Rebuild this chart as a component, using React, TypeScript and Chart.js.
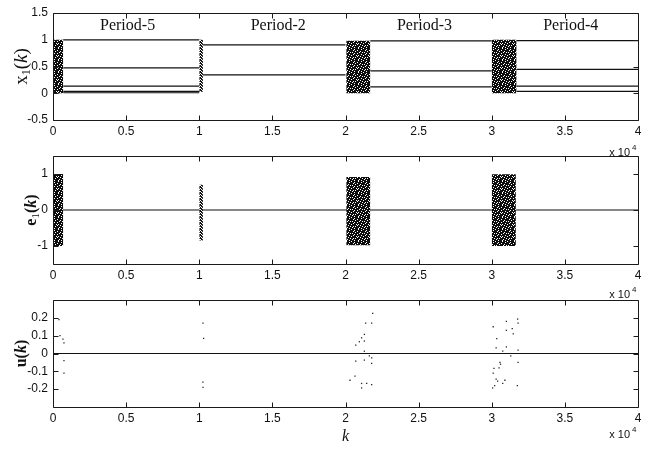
import React, { useEffect, useRef } from "react";
import { Chart, registerables } from "chart.js";

Chart.register(...registerables);

// ---------- data ----------
const kMin = 0;
const kMax = 40000;
const xTickValues = [0, 5000, 10000, 15000, 20000, 25000, 30000, 35000, 40000];
const xTickLabels = ["0", "0.5", "1", "1.5", "2", "2.5", "3", "3.5", "4"];

const x1TickValues = [-0.5, 0, 0.5, 1, 1.5];
const x1TickLabels = ["-0.5", "0", "0.5", "1", "1.5"];
const e1TickValues = [-1, 0, 1];
const e1TickLabels = ["-1", "0", "1"];
const uTickValues = [-0.2, -0.1, 0, 0.1, 0.2];
const uTickLabels = ["-0.2", "-0.1", "0", "0.1", "0.2"];

// period segments (steady orbits)
const periodNames = ["Period-5", "Period-2", "Period-3", "Period-4"];
const periodLabelK = [5100, 15400, 25400, 35400];
const periodLabelY = 1.27;
const periodStart = [700, 10250, 21700, 31700];
const periodEnd = [10000, 20000, 30000, 40000];
const orbit5 = [0.998, 0.476, 0.135, 0.036, 0.009];
const orbit2 = [0.905, 0.345];
const orbit3 = [0.98, 0.42, 0.12];
const orbit4 = [0.983, 0.446, 0.132, 0.034];
const orbits = [orbit5, orbit2, orbit3, orbit4];

// chaotic (transient) bands in x1(k)
const x1BandStart = [0, 10000, 20050, 30000];
const x1BandEnd = [700, 10250, 21700, 31700];
const x1BandLow = [0, 0.03, 0, 0];
const x1BandHigh = [1, 1, 0.98, 1];
const x1BandDense = [true, false, true, true];

// chaotic bands in e1(k)
const e1BandStart = [0, 10000, 20050, 30000];
const e1BandEnd = [700, 10250, 21700, 31650];
const e1BandLow = [-1, -0.85, -0.98, -1.0];
const e1BandHigh = [1, 0.7, 0.92, 0.99];
const e1BandDense = [true, false, true, true];

// control signal u(k) sparse points
const uK = [
  410, 480, 680, 750, 750, 750,
  10260, 10300, 10250, 10260,
  21860, 21380, 21790, 21290, 21100, 21290, 20950, 20700, 21290, 21630,
  21790, 21290, 20700, 21790, 20650, 20310, 21100, 21450, 21790, 21100,
  31770, 31800, 31000, 30100, 31400, 31000, 31470, 30340, 30300, 31000,
  30750, 31800, 31300, 30560, 30600, 31800, 30150, 30500, 30100, 30300,
  30400, 30900, 30750, 30200, 30060, 31750,
];
const uVal = [
  0.19, 0.1, 0.08, 0.06, -0.04, -0.11,
  0.17, 0.085, -0.16, -0.19,
  0.225, 0.17, 0.17, 0.107, 0.088, 0.07, 0.066, 0.047, 0.013, -0.013,
  -0.024, -0.037, -0.043, -0.056, -0.127, -0.15, -0.168, -0.168, -0.174, -0.193,
  0.193, 0.17, 0.18, 0.15, 0.14, 0.13, 0.11, 0.084, 0.032, 0.037,
  0.013, 0.019, -0.013, -0.05, -0.06, -0.05, -0.084, -0.08, -0.11, -0.144,
  -0.155, -0.15, -0.168, -0.18, -0.193, -0.18,
];

// ---------- styling helpers ----------
const DENSE_BITS = [
  "111011111101",
  "101111011111",
  "111110111011",
  "011111101111",
  "110101111110",
  "111111011011",
  "101110111111",
  "111011110101",
  "011111111011",
  "110110101111",
  "111101111110",
  "101111011101",
];
const SPARSE_BITS = [
  "1101",
  "0111",
  "1010",
  "1101",
  "0110",
  "1011",
];

function makePattern(bits: string[]): CanvasPattern | string {
  const c = document.createElement("canvas");
  c.width = bits[0].length;
  c.height = bits.length;
  const g = c.getContext("2d");
  if (!g) return "#222";
  g.fillStyle = "#ffffff";
  g.fillRect(0, 0, c.width, c.height);
  g.fillStyle = "#0d0d0d";
  bits.forEach((row, y) => {
    for (let x = 0; x < row.length; x++) if (row[x] === "1") g.fillRect(x, y, 1, 1);
  });
  const p = g.createPattern(c, "repeat");
  return p || "#222";
}

const SANS = "'Liberation Sans', Arial, sans-serif";
const SERIF = "'Liberation Serif', 'Times New Roman', serif";

type Part = { t: string; font: string; dy?: number };

function drawVerticalRich(ctx: CanvasRenderingContext2D, parts: Part[], cx: number, cy: number) {
  ctx.save();
  let total = 0;
  const widths = parts.map((p) => {
    ctx.font = p.font;
    const w = ctx.measureText(p.t).width;
    total += w;
    return w;
  });
  ctx.translate(cx, cy);
  ctx.rotate(-Math.PI / 2);
  ctx.textBaseline = "middle";
  ctx.textAlign = "left";
  ctx.fillStyle = "#111";
  let x = -total / 2;
  parts.forEach((p, i) => {
    ctx.font = p.font;
    ctx.fillText(p.t, x, p.dy || 0);
    x += widths[i];
  });
  ctx.restore();
}

type PanelCfg = {
  yMin: number;
  yMax: number;
  yTicks: number[];
  yLabels: string[];
  padTop: number;
  plotH: number;
  canvasH: number;
  titleParts: Part[];
  titleX: number;
  extraDraw?: (chart: any) => void;
  expOffset: number;
};

function buildOptions(cfg: PanelCfg, datasets: any[]) {
  const xAxisH = cfg.canvasH - cfg.padTop - cfg.plotH;
  const plugin = {
    id: "panelDeco",
    beforeDraw(chart: any) {
      const { ctx, chartArea: a } = chart;
      ctx.save();
      ctx.fillStyle = "#ffffff";
      ctx.fillRect(a.left, a.top, a.right - a.left, a.bottom - a.top);
      ctx.restore();
    },
    afterDatasetsDraw(chart: any) {
      const { ctx, chartArea: a, scales } = chart;
      const L = Math.round(a.left) + 0.5;
      const R = Math.round(a.right) + 0.5;
      const T = Math.round(a.top) + 0.5;
      const B = Math.round(a.bottom) + 0.5;
      ctx.save();
      ctx.strokeStyle = "#1a1a1a";
      ctx.lineWidth = 1;
      ctx.beginPath();
      ctx.rect(L, T, R - L, B - T);
      const tl = 5;
      xTickValues.forEach((v) => {
        const px = Math.round(scales.x.getPixelForValue(v)) + 0.5;
        ctx.moveTo(px, B);
        ctx.lineTo(px, B - tl);
        ctx.moveTo(px, T);
        ctx.lineTo(px, T + tl);
      });
      cfg.yTicks.forEach((v) => {
        const py = Math.round(scales.y.getPixelForValue(v)) + 0.5;
        ctx.moveTo(L, py);
        ctx.lineTo(L + tl, py);
        ctx.moveTo(R, py);
        ctx.lineTo(R - tl, py);
      });
      ctx.stroke();
      ctx.restore();
    },
    afterDraw(chart: any) {
      const { ctx, chartArea: a } = chart;
      drawVerticalRich(ctx, cfg.titleParts, cfg.titleX, (a.top + a.bottom) / 2);
      ctx.save();
      ctx.fillStyle = "#111";
      ctx.textBaseline = "alphabetic";
      ctx.font = `11px ${SANS}`;
      ctx.textAlign = "right";
      ctx.fillText("x 10", a.right - 8, a.bottom + cfg.expOffset);
      ctx.font = `8px ${SANS}`;
      ctx.textAlign = "left";
      ctx.fillText("4", a.right - 6, a.bottom + cfg.expOffset - 6);
      ctx.restore();
      if (cfg.extraDraw) cfg.extraDraw(chart);
    },
  };
  const options: any = {
    responsive: false,
    animation: false,
    events: [],
    layout: { padding: { top: cfg.padTop, left: 0, right: 12, bottom: 0 } },
    plugins: { legend: { display: false }, tooltip: { enabled: false } },
    scales: {
      x: {
        type: "linear",
        min: kMin,
        max: kMax,
        grid: { display: false, drawTicks: false },
        border: { display: false },
        afterBuildTicks: (s: any) => {
          s.ticks = xTickValues.map((v) => ({ value: v }));
        },
        afterFit: (s: any) => {
          s.height = xAxisH;
          s.paddingLeft = 0;
          s.paddingRight = 0;
        },
        ticks: {
          autoSkip: false,
          maxRotation: 0,
          padding: 4,
          color: "#111",
          font: { family: SANS, size: 12 },
          callback: (_v: any, i: number) => xTickLabels[i],
        },
      },
      y: {
        type: "linear",
        min: cfg.yMin,
        max: cfg.yMax,
        grid: { display: false, drawTicks: false },
        border: { display: false },
        afterBuildTicks: (s: any) => {
          s.ticks = cfg.yTicks.map((v) => ({ value: v }));
        },
        afterFit: (s: any) => {
          s.width = 53;
          s.paddingTop = 0;
          s.paddingBottom = 0;
        },
        ticks: {
          autoSkip: false,
          padding: 5,
          color: "#111",
          font: { family: SANS, size: 12 },
          callback: (_v: any, i: number) => cfg.yLabels[i],
        },
      },
    },
  };
  return { type: "line", data: { datasets }, options, plugins: [plugin] };
}

function segment(x0: number, x1: number, y: number) {
  return {
    data: [
      { x: x0, y },
      { x: x1, y },
    ],
    borderColor: "#111",
    borderWidth: 1.2,
    pointRadius: 0,
    fill: false,
  };
}

function band(x0: number, x1: number, lo: number, hi: number, bg: any) {
  return {
    data: [
      { x: x0, y: hi },
      { x: x1, y: hi },
    ],
    borderColor: "rgba(0,0,0,0)",
    borderWidth: 0,
    pointRadius: 0,
    backgroundColor: bg,
    fill: { value: lo },
  };
}

export default function App() {
  const c1 = useRef<HTMLCanvasElement>(null);
  const c2 = useRef<HTMLCanvasElement>(null);
  const c3 = useRef<HTMLCanvasElement>(null);

  useEffect(() => {
    const dense = makePattern(DENSE_BITS);
    const sparse = makePattern(SPARSE_BITS);

    // ---- panel 1: x1(k)
    const ds1: any[] = [];
    x1BandStart.forEach((s, i) =>
      ds1.push(band(s, x1BandEnd[i], x1BandLow[i], x1BandHigh[i], x1BandDense[i] ? dense : sparse))
    );
    orbits.forEach((vals, p) => vals.forEach((v) => ds1.push(segment(periodStart[p], periodEnd[p], v))));
    const cfg1 = buildOptions(
      {
        yMin: -0.5,
        yMax: 1.5,
        yTicks: x1TickValues,
        yLabels: x1TickLabels,
        padTop: 13,
        plotH: 107,
        canvasH: 165,
        titleX: 22,
        expOffset: 36,
        titleParts: [
          { t: "x", font: `19px ${SERIF}` },
          { t: "1", font: `12px ${SERIF}`, dy: 5 },
          { t: "(", font: `19px ${SERIF}` },
          { t: "k", font: `italic 19px ${SERIF}` },
          { t: ")", font: `19px ${SERIF}` },
        ],
        extraDraw: (chart: any) => {
          const { ctx, scales } = chart;
          ctx.save();
          ctx.fillStyle = "#111";
          ctx.font = `16px ${SERIF}`;
          ctx.textAlign = "center";
          ctx.textBaseline = "middle";
          periodNames.forEach((n, i) =>
            ctx.fillText(n, scales.x.getPixelForValue(periodLabelK[i]), scales.y.getPixelForValue(periodLabelY))
          );
          ctx.restore();
        },
      },
      ds1
    );

    // ---- panel 2: e1(k)
    const ds2: any[] = [];
    e1BandStart.forEach((s, i) =>
      ds2.push(band(s, e1BandEnd[i], e1BandLow[i], e1BandHigh[i], e1BandDense[i] ? dense : sparse))
    );
    ds2.push(segment(kMin, kMax, 0));
    const cfg2 = buildOptions(
      {
        yMin: -1.5,
        yMax: 1.5,
        yTicks: e1TickValues,
        yLabels: e1TickLabels,
        padTop: 11,
        plotH: 108,
        canvasH: 165,
        titleX: 32,
        expOffset: 34,
        titleParts: [
          { t: "e", font: `bold 16px ${SERIF}` },
          { t: "1", font: `11px ${SERIF}`, dy: 4 },
          { t: "(", font: `bold 16px ${SERIF}` },
          { t: "k", font: `italic bold 16px ${SERIF}` },
          { t: ")", font: `bold 16px ${SERIF}` },
        ],
      },
      ds2
    );

    // ---- panel 3: u(k)
    const ds3: any[] = [];
    ds3.push(segment(kMin, kMax, 0));
    ds3.push({
      data: uK.map((k, i) => ({ x: k, y: uVal[i] })),
      showLine: false,
      pointRadius: 0.9,
      pointStyle: "rect",
      pointBackgroundColor: "#222",
      pointBorderWidth: 0,
      borderColor: "#222",
    });
    const cfg3 = buildOptions(
      {
        yMin: -0.3,
        yMax: 0.3,
        yTicks: uTickValues,
        yLabels: uTickLabels,
        padTop: 10,
        plotH: 107,
        canvasH: 160,
        titleX: 22,
        expOffset: 31,
        titleParts: [
          { t: "u", font: `bold 16px ${SERIF}` },
          { t: "(", font: `bold 16px ${SERIF}` },
          { t: "k", font: `italic bold 16px ${SERIF}` },
          { t: ")", font: `bold 16px ${SERIF}` },
        ],
        extraDraw: (chart: any) => {
          const { ctx, chartArea: a } = chart;
          ctx.save();
          ctx.fillStyle = "#111";
          ctx.font = `italic 16px ${SERIF}`;
          ctx.textAlign = "center";
          ctx.textBaseline = "middle";
          ctx.fillText("k", (a.left + a.right) / 2, a.bottom + 30);
          ctx.restore();
        },
      },
      ds3
    );

    const charts = [
      new Chart(c1.current as HTMLCanvasElement, cfg1 as any),
      new Chart(c2.current as HTMLCanvasElement, cfg2 as any),
      new Chart(c3.current as HTMLCanvasElement, cfg3 as any),
    ];
    return () => charts.forEach((c) => c.destroy());
  }, []);

  const cs = (top: number): React.CSSProperties => ({ position: "absolute", left: 0, top });
  return (
    <div style={{ position: "absolute", left: 0, top: 0, width: 650, height: 450, background: "#fff" }}>
      <canvas ref={c1} width={650} height={165} style={cs(0)} />
      <canvas ref={c2} width={650} height={165} style={cs(145)} />
      <canvas ref={c3} width={650} height={160} style={cs(290)} />
    </div>
  );
}
